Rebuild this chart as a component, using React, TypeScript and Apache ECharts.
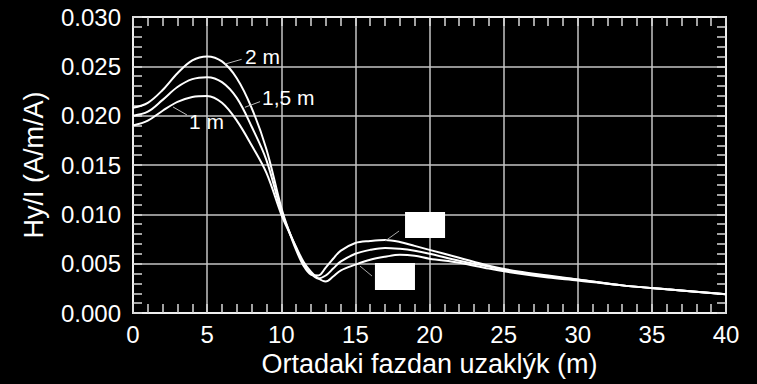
import React, { useEffect, useRef } from "react";
import * as echarts from "echarts";

// Distance from the middle phase (m)
const distance = [
  0, 1, 2, 3, 4, 5, 6, 7, 8, 9, 10, 10.5, 11, 11.5, 12, 12.5, 13, 13.5, 14,
  15, 16, 17, 18, 19, 20, 22, 24, 26, 28, 30, 33, 36, 40,
];

// Hy/I (A/m/A) at observation heights of 2 m, 1,5 m and 1 m
const h2m = [
  0.0208, 0.0213, 0.0226, 0.0243, 0.0256, 0.026, 0.0255, 0.0238, 0.0208,
  0.0166, 0.0107, 0.0084, 0.0064, 0.0048, 0.0039, 0.0038, 0.0046, 0.0055,
  0.0063, 0.0071, 0.0073, 0.0074, 0.0072, 0.0068, 0.0064, 0.0056, 0.0048,
  0.0042, 0.0038, 0.0034, 0.0028, 0.0024, 0.0019,
];
const h15m = [
  0.02, 0.0204, 0.0216, 0.0229, 0.0237, 0.0239, 0.0234, 0.0218, 0.0189,
  0.0155, 0.0103, 0.0084, 0.0066, 0.005, 0.004, 0.0035, 0.0038, 0.0045,
  0.0052, 0.006, 0.0064, 0.0066, 0.0065, 0.0063, 0.006, 0.0053, 0.0047,
  0.0041, 0.0037, 0.0034, 0.0028, 0.0024, 0.0019,
];
const h1m = [
  0.019, 0.0195, 0.0205, 0.0214, 0.0219, 0.022, 0.0213, 0.0195, 0.017,
  0.0142, 0.01, 0.0083, 0.0067, 0.0052, 0.0042, 0.0035, 0.0032, 0.0037,
  0.0043, 0.0049, 0.0054, 0.0057, 0.0059, 0.0058, 0.0055, 0.0051, 0.0045,
  0.004, 0.0036, 0.0033, 0.0028, 0.0024, 0.0019,
];

const yTicks = [0, 0.005, 0.01, 0.015, 0.02, 0.025, 0.03];

// Curve labels: text anchor and leader line, in data coordinates
const curveLabels = [
  { text: "2 m", at: [7.55, 0.02595], from: [6.21, 0.02523], to: [7.33, 0.02571] },
  { text: "1,5 m", at: [8.7, 0.02189], from: [7.55, 0.02085], to: [8.57, 0.02142] },
  { text: "1 m", at: [3.78, 0.01936], from: [2.7, 0.02088], to: [3.64, 0.02007] },
];

// Blank label boxes on the second hump, with their leader lines
const boxes = [
  { x0: 18.35, y0: 0.01023, x1: 21.05, y1: 0.0076, from: [17.0, 0.00729], to: [17.95, 0.00831] },
  { x0: 16.32, y0: 0.00507, x1: 19.02, y1: 0.00233, from: [15.31, 0.00476], to: [16.12, 0.00375] },
];

const FONT = "'Liberation Sans', Arial, sans-serif";
const AXIS_COLOR = "#f0f0f0";
const GRID_COLOR = "#c4c4c4";

export default function App() {
  const ref = useRef<HTMLDivElement>(null);

  useEffect(() => {
    if (!ref.current) return;
    const chart = echarts.init(ref.current, null, { renderer: "svg" });

    const tickCommon = {
      axisLine: { show: true, onZero: false, lineStyle: { color: AXIS_COLOR, width: 2 } },
      axisTick: { show: true, inside: true, length: 9, lineStyle: { color: "#d8d8d8", width: 1.5 } },
      minorTick: { show: true, splitNumber: 5, length: 9, lineStyle: { color: "#d8d8d8", width: 1.5 } },
    };

    const line = (name: string, ys: number[]) => ({
      name,
      type: "line",
      xAxisIndex: 0,
      yAxisIndex: 0,
      data: distance.map((x, i) => [x, ys[i]]),
      showSymbol: false,
      smooth: 0.35,
      lineStyle: { color: "#ffffff", width: 2 },
      itemStyle: { color: "#ffffff" },
      z: 5,
    });

    chart.setOption({
      animation: false,
      backgroundColor: "#000000",
      textStyle: { fontFamily: FONT },
      grid: { left: 133, top: 17, right: 31, bottom: 71, containLabel: false },
      xAxis: [
        {
          type: "value",
          position: "bottom",
          min: 0,
          max: 40,
          interval: 5,
          ...tickCommon,
          splitLine: { show: true, lineStyle: { color: GRID_COLOR, width: 1.5 } },
          axisLabel: { color: "#ffffff", fontSize: 24, fontFamily: FONT, margin: 9 },
          name: "Ortadaki fazdan uzaklýk (m)",
          nameLocation: "middle",
          nameGap: 35,
          nameTextStyle: { color: "#ffffff", fontSize: 27, fontFamily: FONT },
        },
        {
          type: "value",
          position: "top",
          min: 0,
          max: 40,
          interval: 5,
          ...tickCommon,
          splitLine: { show: false },
          axisLabel: { show: false },
        },
      ],
      yAxis: [
        {
          type: "value",
          position: "left",
          min: 0,
          max: 0.03,
          interval: 0.005,
          ...tickCommon,
          splitLine: { show: true, lineStyle: { color: GRID_COLOR, width: 1.5 } },
          axisLabel: {
            color: "#ffffff",
            fontSize: 24,
            fontFamily: FONT,
            margin: 12,
            formatter: (v: number) => {
              const t = yTicks.find((k) => Math.abs(k - v) < 1e-9);
              return (t ?? v).toFixed(3);
            },
          },
          name: "Hy/I (A/m/A)",
          nameLocation: "middle",
          nameGap: 86,
          nameTextStyle: { color: "#ffffff", fontSize: 27, fontFamily: FONT },
        },
        {
          type: "value",
          position: "right",
          min: 0,
          max: 0.03,
          interval: 0.005,
          ...tickCommon,
          splitLine: { show: false },
          axisLabel: { show: false },
        },
      ],
      series: [line("2 m", h2m), line("1,5 m", h15m), line("1 m", h1m)],
    });

    // Annotations placed through the axes' own scales
    const px = (p: number[]) => chart.convertToPixel({ xAxisIndex: 0, yAxisIndex: 0 }, p) as number[];
    const elements: any[] = [];
    curveLabels.forEach((c) => {
      const a = px(c.from);
      const b = px(c.to);
      const t = px(c.at);
      elements.push({
        type: "line",
        shape: { x1: a[0], y1: a[1], x2: b[0], y2: b[1] },
        style: { stroke: "#bdbdbd", lineWidth: 1 },
        z: 10,
      });
      elements.push({
        type: "text",
        x: t[0],
        y: t[1],
        style: {
          text: c.text,
          fill: "#ffffff",
          font: `21px ${FONT}`,
          textAlign: "left",
          textVerticalAlign: "middle",
          verticalAlign: "middle",
        },
        z: 10,
      });
    });
    boxes.forEach((bx) => {
      const p0 = px([bx.x0, bx.y0]);
      const p1 = px([bx.x1, bx.y1]);
      const a = px(bx.from);
      const b = px(bx.to);
      elements.push({
        type: "line",
        shape: { x1: a[0], y1: a[1], x2: b[0], y2: b[1] },
        style: { stroke: "#a8a8a8", lineWidth: 1 },
        z: 10,
      });
      elements.push({
        type: "rect",
        shape: { x: p0[0], y: p0[1], width: p1[0] - p0[0], height: p1[1] - p0[1] },
        style: { fill: "#ffffff" },
        z: 10,
      });
    });
    chart.setOption({ graphic: elements });

    return () => chart.dispose();
  }, []);

  return (
    <div
      ref={ref}
      style={{ position: "absolute", left: 0, top: 0, width: 757, height: 384, background: "#000" }}
    />
  );
}
